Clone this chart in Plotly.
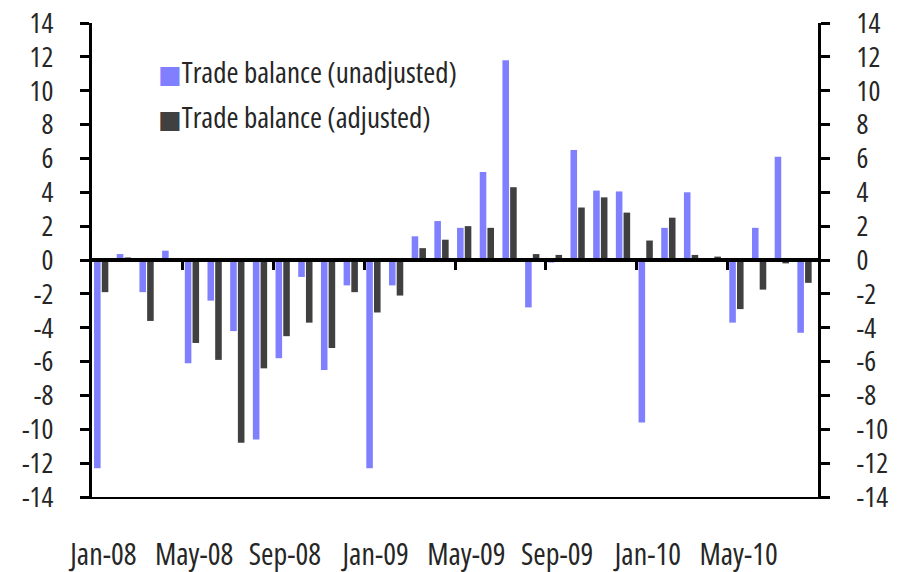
import plotly.graph_objects as go

months = ["Jan-08", "Feb-08", "Mar-08", "Apr-08", "May-08", "Jun-08", "Jul-08", "Aug-08",
          "Sep-08", "Oct-08", "Nov-08", "Dec-08", "Jan-09", "Feb-09", "Mar-09", "Apr-09",
          "May-09", "Jun-09", "Jul-09", "Aug-09", "Sep-09", "Oct-09", "Nov-09", "Dec-09",
          "Jan-10", "Feb-10", "Mar-10", "Apr-10", "May-10", "Jun-10", "Jul-10", "Aug-10"]
unadjusted = [-12.3, 0.35, -1.9, 0.55, -6.1, -2.4, -4.2, -10.6, -5.8, -1.0, -6.5, -1.5,
              -12.3, -1.5, 1.4, 2.3, 1.9, 5.2, 11.8, -2.8, -0.15, 6.5, 4.1, 4.05,
              -9.6, 1.9, 4.0, 0.1, -3.7, 1.9, 6.1, -4.3]
adjusted = [-1.9, 0.15, -3.6, 0.0, -4.9, -5.9, -10.8, -6.4, -4.5, -3.7, -5.2, -1.9,
            -3.1, -2.1, 0.7, 1.2, 2.0, 1.9, 4.3, 0.35, 0.3, 3.1, 3.7, 2.8,
            1.15, 2.5, 0.3, 0.2, -2.9, -1.75, -0.2, -1.35]
series_names = ["Trade balance (unadjusted)", "Trade balance (adjusted)"]
series_colors = ["#8080FF", "#404040"]
y_ticks = list(range(-14, 15, 2))
label_months = months[::4]
boundary_ticks = [i + 3.5 for i in range(0, 28, 4)]


def cond(s):
    return f"<span style='font-stretch:condensed'>{s}</span>"


def legend_label(name, color):
    swatch = (f"<span style='font-family:DejaVu Sans;font-size:25px;color:{color}'>"
              "\u25A0</span>")
    return swatch + cond(name)


FONT = "Open Sans"
TXT = "#262626"

fig = go.Figure()
fig.add_trace(go.Bar(x=months, y=unadjusted, name=series_names[0],
                     marker=dict(color=series_colors[0], line=dict(width=0)),
                     offset=-0.41, width=0.29, showlegend=False))
fig.add_trace(go.Bar(x=months, y=adjusted, name=series_names[1],
                     marker=dict(color=series_colors[1], line=dict(width=0)),
                     offset=-0.07, width=0.29, showlegend=False))
# legend entries for the two bar series (square swatch drawn in the label)
for i, (nm, col) in enumerate(zip(series_names, series_colors)):
    fig.add_trace(go.Scatter(x=[None], y=[None], mode="markers",
                             name=legend_label(nm, col),
                             marker=dict(symbol="square", size=1, color="rgba(0,0,0,0)"),
                             legendgroup=f"g{i}", hoverinfo="skip"))
# helper trace to activate the overlay axes (zero-line axis and right axis)
fig.add_trace(go.Scatter(x=[None], y=[None], xaxis="x2", yaxis="y2",
                         showlegend=False, hoverinfo="skip"))

fig.update_layout(
    width=901, height=572,
    margin=dict(l=84, r=91, t=15, b=83),
    plot_bgcolor="white", paper_bgcolor="white",
    font=dict(family=FONT, size=28, color=TXT),
    barmode="overlay",
    showlegend=True,
    legend=dict(x=0.036, y=0.951, xanchor="left", yanchor="top",
                bgcolor="rgba(0,0,0,0)", font=dict(size=29, color=TXT),
                tracegroupgap=4, itemwidth=30),
    xaxis=dict(type="category", range=[-0.5, 31.5], tickmode="array",
               tickvals=label_months, ticktext=[cond(m) for m in label_months],
               automargin=False,
               showline=True, linecolor="black", linewidth=2,
               ticks="", showgrid=False, zeroline=False,
               ticklabelstandoff=30, tickangle=0, ticklabeloverflow="allow",
               tickfont=dict(size=30, color=TXT)),
    xaxis2=dict(overlaying="x", anchor="free", position=0.5, side="bottom",
                range=[-0.5, 31.5], tickmode="array", tickvals=boundary_ticks,
                automargin=False,
                showticklabels=False, ticks="outside", ticklen=8, tickwidth=2.5,
                tickcolor="black", showline=True, linecolor="black", linewidth=3.5,
                showgrid=False, zeroline=False),
    yaxis=dict(range=[-14, 14], tickmode="array", tickvals=y_ticks,
               ticktext=[cond(str(v)) for v in y_ticks],
               automargin=False, ticklabeloverflow="allow",
               showline=True, linecolor="black", linewidth=3,
               ticks="outside", ticklen=9, tickwidth=2.5, tickcolor="black",
               showgrid=False, zeroline=False, ticklabelstandoff=21,
               tickfont=dict(size=28, color=TXT)),
    yaxis2=dict(overlaying="y", side="right", anchor="x", range=[-14, 14],
                tickmode="array", tickvals=y_ticks,
                ticktext=[cond(str(v)) for v in y_ticks], automargin=False,
                ticklabeloverflow="allow",
                showline=True, linecolor="black", linewidth=3,
                ticks="outside", ticklen=9, tickwidth=2.5, tickcolor="black",
                showgrid=False, zeroline=False, ticklabelstandoff=21,
                tickfont=dict(size=28, color=TXT)),
)

fig.write_html("out.html")
